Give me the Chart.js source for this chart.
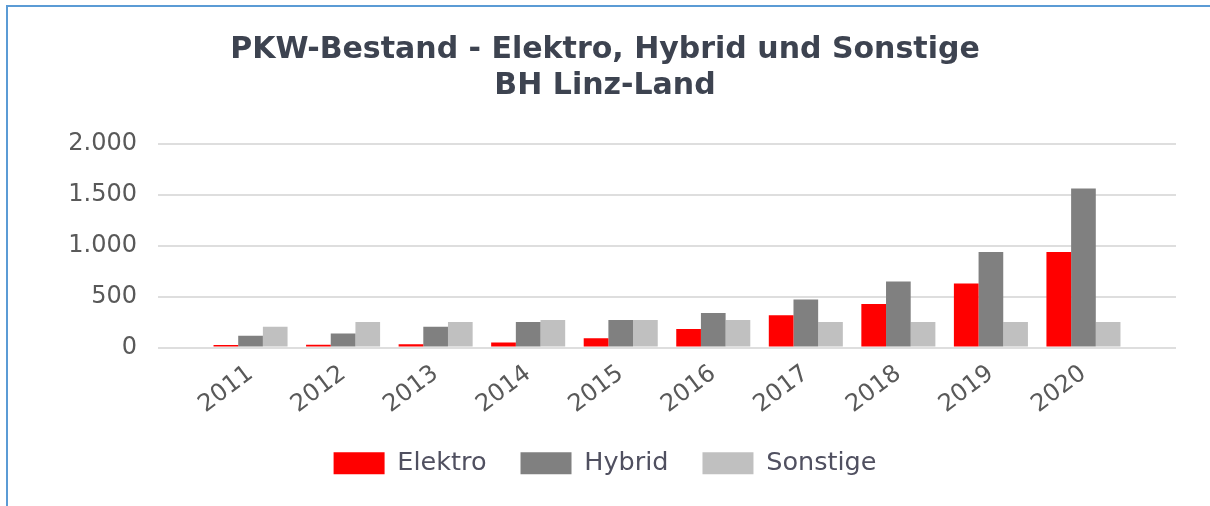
<!DOCTYPE html>
<html>
<head>
<meta charset="utf-8">
<script src="https://cdn.jsdelivr.net/npm/chart.js@4"></script>
<style>
  html, body { margin: 0; padding: 0; background: #fff; }
  #wrap { position: relative; width: 1210px; height: 506px; }
  #frame { position: absolute; left: 6px; top: 5px; right: 0; bottom: 0;
           border-top: 2px solid #5b9bd5; border-left: 2px solid #5b9bd5; pointer-events: none; }
</style>
</head>
<body>
<div id="wrap">
  <canvas id="myChart" width="1210" height="506"></canvas>
  <div id="frame"></div>
</div>
<script>
const years = ['2011', '2012', '2013', '2014', '2015', '2016', '2017', '2018', '2019', '2020'];
const elektro = [25, 28, 31, 50, 92, 181, 316, 428, 629, 938];
const hybrid = [115, 138, 204, 250, 270, 339, 471, 649, 938, 1563];
const sonstige = [204, 250, 250, 270, 270, 270, 250, 250, 250, 250];
const yTicks = [0, 500, 1000, 1500, 2000];

const font = 'DejaVu Sans, Verdana, sans-serif';
const toPoints = arr => arr.map((v, i) => ({ x: Number(years[i]), y: v }));
const fmt = v => String(v).replace(/\B(?=(\d{3})+(?!\d))/g, '.');

const ctx = document.getElementById('myChart');
const myChart = new Chart(ctx, {
    type: 'bar',
    data: {
        datasets: [
            { label: 'Elektro', data: toPoints(elektro), backgroundColor: '#ff0000' },
            { label: 'Hybrid', data: toPoints(hybrid), backgroundColor: '#808080' },
            { label: 'Sonstige', data: toPoints(sonstige), backgroundColor: '#c0c0c0' }
        ]
    },
    options: {
        responsive: false,
        animation: false,
        layout: { padding: { left: 34, right: 34, top: 0, bottom: 20 } },
        datasets: { bar: { categoryPercentage: 0.8, barPercentage: 1.0, borderWidth: 0 } },
        plugins: {
            tooltip: { enabled: false },
            title: {
                display: true,
                text: ['PKW-Bestand - Elektro, Hybrid und Sonstige', 'BH Linz-Land'],
                color: '#3d4350',
                font: { family: font, size: 30, weight: 'bold', lineHeight: 1.2 },
                padding: { top: 32, bottom: 40 }
            },
            legend: {
                position: 'bottom',
                labels: {
                    color: '#505060',
                    font: { family: font, size: 25.5 },
                    boxWidth: 51,
                    boxHeight: 22,
                    padding: 34
                }
            }
        },
        scales: {
            x: {
                type: 'linear',
                offset: false,
                min: Number(years[0]) - 1,
                max: Number(years[years.length - 1]) + 1,
                grid: { display: false, drawTicks: false },
                border: { display: false },
                ticks: {
                    stepSize: 1,
                    autoSkip: false,
                    minRotation: 37,
                    maxRotation: 37,
                    padding: 12,
                    color: '#595959',
                    font: { family: font, size: 24 },
                    callback: v => years.includes(String(v)) ? String(v) : ''
                },
                afterFit: s => { s.height = 69; }
            },
            y: {
                min: 0,
                max: 2000,
                grid: { color: '#dedede', lineWidth: 2, drawTicks: false },
                border: { display: false },
                afterBuildTicks: s => { s.ticks = yTicks.map(v => ({ value: v })); },
                ticks: {
                    padding: 21,
                    color: '#595959',
                    font: { family: font, size: 24 },
                    callback: v => fmt(v)
                },
                afterFit: s => { s.width = 124; }
            }
        }
    }
});
</script>
</body>
</html>
